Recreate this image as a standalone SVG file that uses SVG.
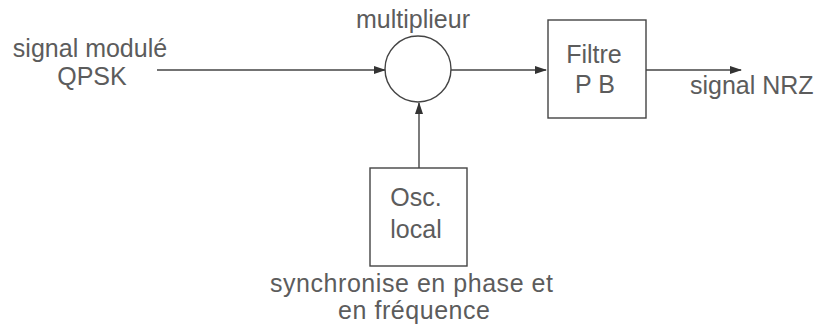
<svg xmlns="http://www.w3.org/2000/svg" width="822" height="327" viewBox="0 0 822 327">
<style>
  .t { font-family: "Liberation Sans", Arial, sans-serif; font-size: 25px; fill: #5c5c5c; }
  .ln { stroke: #444; stroke-width: 1.4; fill: none; }
  .bx { stroke: #444; stroke-width: 1.4; fill: #fff; }
</style>
<defs>
  <marker id="arr" markerWidth="12" markerHeight="8" refX="11" refY="4" orient="auto" markerUnits="userSpaceOnUse">
    <path d="M0,0 L12,4 L0,8 Z" fill="#333"/>
  </marker>
</defs>
<rect width="822" height="327" fill="#fff"/>
<g id="connectors">
  <line class="ln" x1="157" y1="70" x2="385" y2="70" marker-end="url(#arr)"/>
  <line class="ln" x1="451" y1="70" x2="546" y2="70" marker-end="url(#arr)"/>
  <line class="ln" x1="646" y1="70" x2="741" y2="70" marker-end="url(#arr)"/>
  <line class="ln" x1="419" y1="168" x2="419" y2="103" marker-end="url(#arr)"/>
</g>
<g id="input-label">
  <text class="t" x="90" y="57" text-anchor="middle">signal modulé</text>
  <text class="t" x="92" y="85" text-anchor="middle">QPSK</text>
</g>
<g id="multiplieur">
  <circle class="ln" cx="418" cy="69" r="33"/>
  <text class="t" x="413" y="28" text-anchor="middle">multiplieur</text>
</g>
<g id="filtre">
  <rect class="bx" x="548" y="20" width="98" height="98"/>
  <text class="t" x="594" y="63" text-anchor="middle">Filtre</text>
  <text class="t" x="595" y="93" text-anchor="middle">P B</text>
</g>
<g id="output-label">
  <text class="t" x="690" y="94">signal NRZ</text>
</g>
<g id="osc">
  <rect class="bx" x="370" y="168" width="97" height="98"/>
  <text class="t" x="416" y="206" text-anchor="middle">Osc.</text>
  <text class="t" x="416" y="238" text-anchor="middle">local</text>
</g>
<g id="osc-label">
  <text class="t" x="270" y="292" textLength="283" lengthAdjust="spacing">synchronise en phase et</text>
  <text class="t" x="338" y="319" textLength="152" lengthAdjust="spacing">en fréquence</text>
</g>
</svg>
